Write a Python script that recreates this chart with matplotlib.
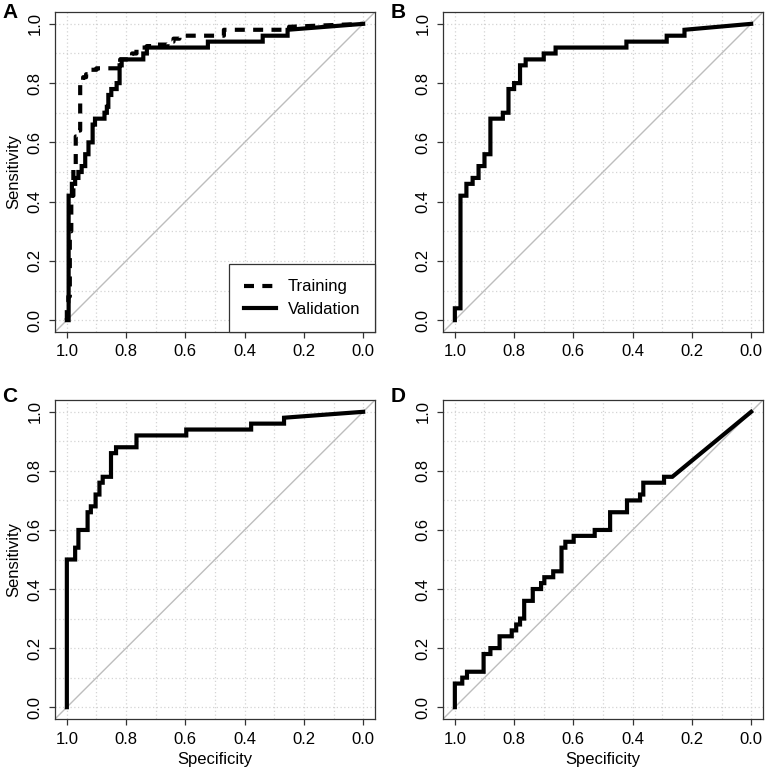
import numpy as np
import matplotlib
matplotlib.use("Agg")
import matplotlib.pyplot as plt

plt.rcParams["font.family"] = ["Liberation Sans", "DejaVu Sans"]

# ROC curves: each step is (specificity, sensitivity) where sensitivity rises
# A - training (dashed)
train_spec = [1.0, 0.995, 0.99, 0.985, 0.978, 0.97, 0.962, 0.955, 0.945, 0.935, 0.92, 0.90,
              0.826, 0.82, 0.78, 0.765, 0.73, 0.70, 0.66, 0.64, 0.62, 0.47, 0.25]
train_sens = [0.06, 0.08, 0.30, 0.42, 0.52, 0.62, 0.64, 0.80, 0.82, 0.83, 0.845, 0.85,
              0.86, 0.88, 0.90, 0.92, 0.925, 0.93, 0.94, 0.95, 0.96, 0.98, 0.99]

# A - validation (solid)
valid_spec = [0.994, 0.983, 0.972, 0.961, 0.95, 0.938, 0.927, 0.913, 0.905, 0.873, 0.865, 0.86,
              0.85, 0.832, 0.822, 0.815, 0.742, 0.73, 0.524, 0.339, 0.255]
valid_sens = [0.42, 0.46, 0.48, 0.50, 0.52, 0.56, 0.60, 0.66, 0.68, 0.70, 0.72, 0.76,
              0.78, 0.80, 0.86, 0.88, 0.90, 0.92, 0.94, 0.96, 0.98]

# B
b_spec = [1.0, 0.981, 0.961, 0.94, 0.92, 0.90, 0.88, 0.838, 0.819, 0.80, 0.78, 0.761,
          0.70, 0.66, 0.421, 0.285, 0.225]
b_sens = [0.04, 0.42, 0.46, 0.48, 0.52, 0.56, 0.68, 0.70, 0.78, 0.80, 0.86, 0.88,
          0.90, 0.92, 0.94, 0.96, 0.98]

# C
c_spec = [1.0, 0.972, 0.961, 0.93, 0.919, 0.903, 0.89, 0.879, 0.851, 0.834, 0.765,
          0.597, 0.378, 0.267]
c_sens = [0.50, 0.54, 0.60, 0.66, 0.68, 0.72, 0.76, 0.78, 0.86, 0.88, 0.92,
          0.94, 0.96, 0.98]

# D
d_spec = [1.0, 0.975, 0.959, 0.903, 0.88, 0.849, 0.808, 0.793, 0.78, 0.766, 0.737, 0.709,
          0.698, 0.668, 0.64, 0.627, 0.599, 0.528, 0.476, 0.419, 0.375, 0.364, 0.294, 0.266]
d_sens = [0.08, 0.10, 0.12, 0.18, 0.20, 0.24, 0.26, 0.28, 0.30, 0.36, 0.40, 0.42,
          0.44, 0.46, 0.54, 0.56, 0.58, 0.60, 0.66, 0.70, 0.72, 0.76, 0.78, 0.78]

ticks = [0.0, 0.2, 0.4, 0.6, 0.8, 1.0]
tick_labels = ["0.0", "0.2", "0.4", "0.6", "0.8", "1.0"]


def roc_path(spec, sens):
    # start at (1, 0), go left then up for every step, end at (0, 1)
    xs, ys = [1.0], [0.0]
    cur = 0.0
    for s, t in zip(spec, sens):
        xs += [s, s]
        ys += [cur, t]
        cur = t
    xs.append(0.0)
    ys.append(1.0)
    return xs, ys


def setup(ax, ylab=False, xlab=False):
    ax.set_xlim(1.04, -0.04)
    ax.set_ylim(-0.04, 1.04)
    ax.set_xticks(ticks)
    ax.set_xticklabels(tick_labels)
    ax.set_yticks(ticks)
    ax.set_yticklabels(tick_labels, rotation=90, va="center")
    ax.set_xticks(np.arange(0, 1.01, 0.1), minor=True)
    ax.set_yticks(np.arange(0, 1.01, 0.1), minor=True)
    ax.tick_params(which="minor", length=0)
    ax.tick_params(which="major", length=4, width=0.9, labelsize=12, pad=5, color="#333333")
    ax.grid(True, which="both", color="#d4d4d4", linestyle=(0, (1, 2)), linewidth=0.9)
    ax.set_axisbelow(True)
    for sp in ax.spines.values():
        sp.set_linewidth(0.9)
        sp.set_color("#333333")
    ax.axline((1, 0), (0, 1), color="#bdbdbd", linewidth=1.0, zorder=1)
    if ylab:
        ax.set_ylabel("Sensitivity", fontsize=12)
        ax.yaxis.set_label_coords(-0.105, 0.5)
    if xlab:
        ax.set_xlabel("Specificity", fontsize=12)
        ax.xaxis.set_label_coords(0.5, -0.105)


fig = plt.figure(figsize=(7.65, 7.7), dpi=100)
W, H = 765, 770
boxes = {
    "A": (55, 12, 320, 320),
    "B": (443, 12, 320, 320),
    "C": (55, 400, 320, 319),
    "D": (443, 400, 320, 319),
}
axes = {}
for k, (x0, y0, w, h) in boxes.items():
    axes[k] = fig.add_axes([x0 / W, 1 - (y0 + h) / H, w / W, h / H])

lw = 3.0

ax = axes["A"]
setup(ax, ylab=True)
x, y = roc_path(train_spec, train_sens)
ax.plot(x, y, color="black", linewidth=lw, linestyle=(0, (2.4, 2.0)), label="Training",
        dash_capstyle="butt")
x, y = roc_path(valid_spec, valid_sens)
ax.plot(x, y, color="black", linewidth=lw, label="Validation", solid_joinstyle="miter")
leg = ax.legend(loc="lower right", bbox_to_anchor=(1, 0), borderaxespad=0, fontsize=12,
                frameon=True, fancybox=False, framealpha=1, edgecolor="#333333",
                handlelength=1.9, handletextpad=0.7, borderpad=0.9, labelspacing=0.45)
leg.get_frame().set_linewidth(0.9)

for k, sx, sy in [("B", b_spec, b_sens), ("C", c_spec, c_sens), ("D", d_spec, d_sens)]:
    ax = axes[k]
    setup(ax, ylab=(k == "C"), xlab=(k in "CD"))
    x, y = roc_path(sx, sy)
    ax.plot(x, y, color="black", linewidth=lw, solid_joinstyle="miter")

# panel letters
for k, (px, py) in {"A": (2, 18), "B": (391, 18), "C": (2, 402), "D": (391, 402)}.items():
    fig.text(px / W, 1 - py / H, k, fontsize=15, fontweight="bold", ha="left", va="baseline")

fig.savefig("out.png", dpi=100)
